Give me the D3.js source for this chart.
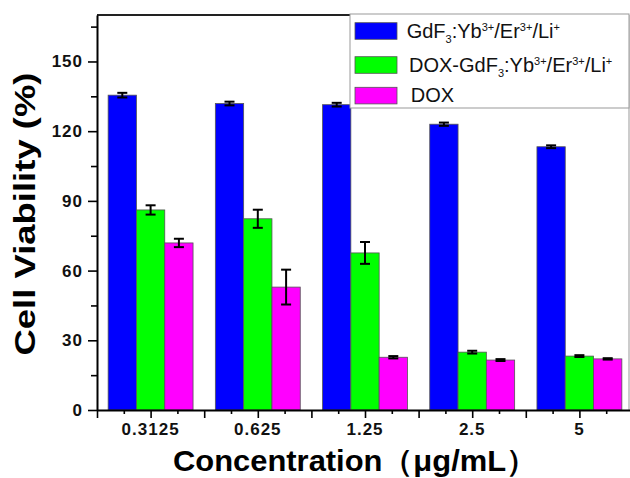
<!DOCTYPE html>
<html lang="en">
<head>
<meta charset="UTF-8"/>
<title>Cell Viability</title>
<script src="https://d3js.org/d3.v7.js"></script>
<style>
  body { margin: 0; background: #fff; }
  text { font-family: "Liberation Sans", Arial, sans-serif; }
</style>
</head>
<body>
<div id="chart"></div>
<script>
// data
const concentrations = ["0.3125", "0.625", "1.25", "2.5", "5"];
const seriesKeys = ["gdf", "doxGdf", "dox"];
const seriesColors = ["#0000ff", "#00ff00", "#ff00ff"];

const gdf       = [135.5, 131.9, 131.4, 123.0, 113.3];
const gdfErr    = [1.0, 0.8, 0.8, 0.7, 0.6];
const doxGdf    = [86.1, 82.3, 67.6, 24.9, 23.2];
const doxGdfErr = [2.0, 3.9, 4.7, 0.6, 0.4];
const dox       = [71.9, 52.9, 22.7, 21.5, 22.0];
const doxErr    = [1.8, 7.5, 0.5, 0.4, 0.3];

const yMajorTicks = [0, 30, 60, 90, 120, 150];

const values = [gdf, doxGdf, dox];
const errors = [gdfErr, doxGdfErr, doxErr];

const width = 630, height = 478;

const svg = d3.select("#chart")
  .append("svg")
    .attr("width", width)
    .attr("height", height);

// x is a numeric axis, one unit per concentration group
const x = d3.scaleLinear()
  .domain([0.5, 5.5])
  .range([97, 633]);

const y = d3.scaleLinear()
  .domain([0, 170])
  .range([410, 15]);

const barW = 0.264; // in x units

// flatten to one row per bar
const bars = [];
seriesKeys.forEach((k, s) => {
  concentrations.forEach((c, i) => {
    bars.push({ s: s, i: i, v: values[s][i], e: errors[s][i] });
  });
});

// bars
svg.append("g")
  .selectAll("rect")
  .data(bars)
  .join("rect")
    .attr("x", d => x(i2x(d)))
    .attr("y", d => y(d.v))
    .attr("width", x(barW) - x(0))
    .attr("height", d => y(0) - y(d.v))
    .attr("fill", d => seriesColors[d.s])
    .attr("stroke", "#555")
    .attr("stroke-width", 0.8);

function i2x(d) {
  return (d.i + 1) + (d.s - 1.5) * barW;
}
function cx(d) {
  return x(i2x(d) + barW / 2);
}

// error bars
const eb = svg.append("g")
  .attr("stroke", "#000")
  .attr("stroke-width", 2);
eb.selectAll("line.v")
  .data(bars)
  .join("line")
    .attr("class", "v")
    .attr("x1", cx).attr("x2", cx)
    .attr("y1", d => y(d.v + d.e))
    .attr("y2", d => y(d.v - d.e));
eb.selectAll("line.top")
  .data(bars)
  .join("line")
    .attr("class", "top")
    .attr("x1", d => cx(d) - 5).attr("x2", d => cx(d) + 5)
    .attr("y1", d => y(d.v + d.e)).attr("y2", d => y(d.v + d.e));
eb.selectAll("line.bot")
  .data(bars)
  .join("line")
    .attr("class", "bot")
    .attr("x1", d => cx(d) - 5).attr("x2", d => cx(d) + 5)
    .attr("y1", d => y(d.v - d.e)).attr("y2", d => y(d.v - d.e));

// frame: top and right
svg.append("line")
  .attr("x1", x(0.5)).attr("x2", 629)
  .attr("y1", y(170)).attr("y2", y(170))
  .attr("stroke", "#222").attr("stroke-width", 1.8);
svg.append("line")
  .attr("x1", 629).attr("x2", 629)
  .attr("y1", y(170)).attr("y2", y(0))
  .attr("stroke", "#999").attr("stroke-width", 1);

// Y axis, major + minor ticks
const yAxis = svg.append("g")
  .attr("transform", `translate(${x(0.5)},0)`)
  .call(d3.axisLeft(y).tickValues(yMajorTicks).tickSize(9).tickSizeOuter(0).tickPadding(5));
svg.append("g")
  .attr("transform", `translate(${x(0.5)},0)`)
  .call(d3.axisLeft(y).tickValues([15, 45, 75, 105, 135, 165]).tickSize(6).tickSizeOuter(0).tickFormat(""))
  .select(".domain").remove();

// X axis: major ticks every half unit, minor in between
const xMajor = d3.range(0.5, 5.51, 0.5);
const xMinor = d3.range(0.75, 5.5, 0.5);
svg.append("g")
  .attr("transform", `translate(0,${y(0)})`)
  .call(d3.axisBottom(x).tickValues(xMajor).tickSize(8).tickSizeOuter(0).tickFormat(""));
svg.append("g")
  .attr("transform", `translate(0,${y(0)})`)
  .call(d3.axisBottom(x).tickValues(xMinor).tickSize(4).tickSizeOuter(0).tickFormat(""))
  .select(".domain").remove();

svg.selectAll(".domain").attr("stroke-width", 2);
svg.selectAll(".tick line").attr("stroke-width", 1.6);
yAxis.selectAll(".tick text")
  .attr("font-size", 17)
  .attr("font-weight", "bold")
  .attr("letter-spacing", 1)
  .attr("font-family", "'Liberation Sans', Arial, sans-serif")
  .attr("fill", "#111");

// concentration labels under each group
svg.append("g")
  .selectAll("text")
  .data(concentrations)
  .join("text")
    .attr("x", (d, i) => x(i + 1))
    .attr("y", 435)
    .attr("text-anchor", "middle")
    .attr("font-size", 17)
    .attr("font-weight", "bold")
    .attr("letter-spacing", 1)
    .attr("fill", "#111")
    .text(d => d);

// axis titles
svg.append("text")
  .attr("x", 355)
  .attr("y", 471)
  .attr("text-anchor", "middle")
  .attr("font-size", 30)
  .attr("font-weight", "bold")
  .attr("textLength", 364)
  .attr("lengthAdjust", "spacingAndGlyphs")
  .text("Concentration（μg/mL）");

svg.append("text")
  .attr("transform", "translate(35,214) rotate(-90)")
  .attr("text-anchor", "middle")
  .attr("font-size", 30)
  .attr("font-weight", "bold")
  .attr("textLength", 283)
  .attr("lengthAdjust", "spacingAndGlyphs")
  .text("Cell Viability (%)");

// legend
const legend = svg.append("g");
legend.append("rect")
  .attr("x", 350).attr("y", 14)
  .attr("width", 279).attr("height", 94)
  .attr("fill", "#fff")
  .attr("stroke", "#999");

const legendY = [22.7, 56.7, 87.3];
const legendTextX = [406.7, 409, 410.7];
legend.selectAll("rect.sw")
  .data(seriesColors)
  .join("rect")
    .attr("class", "sw")
    .attr("x", 355).attr("y", (d, i) => legendY[i])
    .attr("width", 42).attr("height", 16.6)
    .attr("fill", d => d)
    .attr("stroke", "#555").attr("stroke-width", 0.8);

// label pieces: [text, kind] where kind is n / sub / sup
const formula = [["GdF", "n"], ["3", "sub"], [":Yb", "n"], ["3+", "sup"], ["/Er", "n"], ["3+", "sup"], ["/Li", "n"], ["+", "sup"]];
const legendLabels = [formula, [["DOX-", "n"]].concat(formula), [["DOX", "n"]]];

legendLabels.forEach((parts, i) => {
  const t = legend.append("text")
    .attr("x", legendTextX[i])
    .attr("y", legendY[i] + 15)
    .attr("font-size", 20)
    .attr("fill", "#111");
  let cur = 0;
  parts.forEach(p => {
    const shift = p[1] === "sub" ? 5 : p[1] === "sup" ? -7 : 0;
    t.append("tspan")
      .attr("dy", shift - cur)
      .attr("font-size", p[1] === "n" ? 20 : 11)
      .text(p[0]);
    cur = shift;
  });
});
</script>
</body>
</html>
